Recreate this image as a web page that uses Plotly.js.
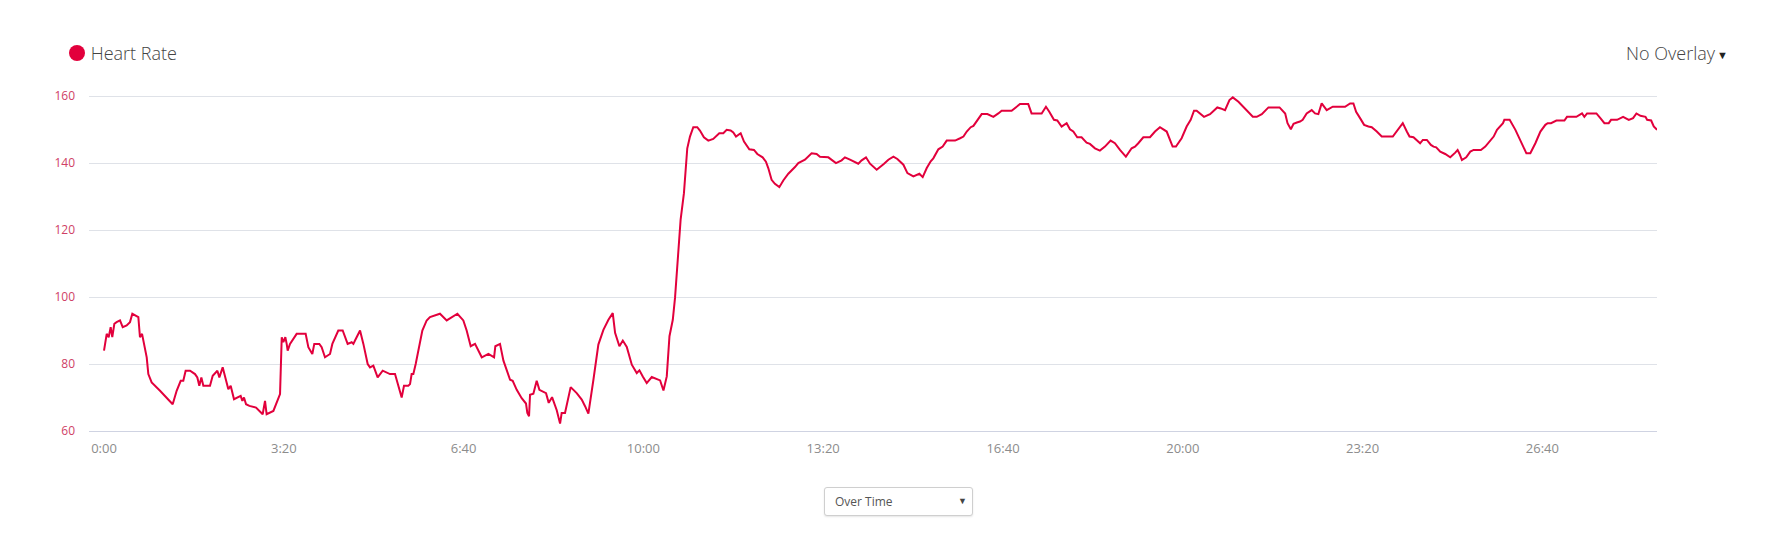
<!DOCTYPE html>
<html>
<head>
<meta charset="utf-8">
<script src="https://cdn.plot.ly/plotly-3.0.1.min.js"></script>
<style>
  html, body { margin: 0; padding: 0; background: #fff; }
  #wrap { position: relative; width: 1766px; height: 549px; overflow: hidden; font-family: "Open Sans", sans-serif; }
  #chart { position: absolute; left: 0; top: 0; width: 1766px; height: 549px; }
  .legend { position: absolute; left: 69px; top: 43.5px; height: 18px; line-height: 18px; font-size: 18px; font-weight: 300; color: #444; white-space: nowrap; }
  .legend .dot { position: absolute; left: 0; top: 1px; width: 16px; height: 16px; border-radius: 50%; background: #e2003c; }
  .legend .lbl { position: absolute; left: 21.7px; top: 0; }
  .overlay { position: absolute; left: 1626px; top: 43.5px; height: 18px; line-height: 18px; font-size: 18px; font-weight: 300; color: #444; white-space: nowrap; }
  .overlay .arr { font-size: 11px; color: #222; margin-left: 2px; vertical-align: 1px; }
  .select { position: absolute; left: 824px; top: 487px; width: 149px; height: 29px; box-sizing: border-box; border: 1px solid #cfcfcf; border-radius: 3px; box-shadow: 0 1px 2px rgba(0,0,0,0.10); background: #fff; }
  .select .txt { position: absolute; left: 10px; top: 0; line-height: 27px; font-size: 12px; color: #555; }
  .select .arr { position: absolute; right: 5px; top: 0; line-height: 25px; font-size: 9px; color: #444; }
</style>
</head>
<body>
<div id="wrap">
  <div id="chart"></div>
  <div class="legend"><span class="dot"></span><span class="lbl">Heart Rate</span></div>
  <div class="overlay">No Overlay<span class="arr">▼</span></div>
  <div class="select"><span class="txt">Over Time</span><span class="arr">▼</span></div>
</div>
<script>
// elapsed time in seconds
const elapsedSec = [
  0,3,5.2,7.4,9.2,11.5,14,17.8,20.8,25.2,
  28.9,31.5,38.2,40,42.3,44.9,47.5,49.3,53,62.3,
  76.4,80.8,85.3,88.2,90.8,95.7,101.2,103.8,106,108.3,
  110.5,117.9,120.9,126.1,128.3,132,135.7,138.3,140.9,144.6,
  152,153.9,155.7,158,161.7,169.1,176.5,179.1,180.9,188.4,
  195.8,197.7,199.5,201.7,203.2,204.3,206.9,214.3,224.3,227.3,
  231.7,233.9,239.5,242.1,245.8,251.4,254,260.6,265.5,271,
  275.5,277.4,279.2,284.8,288.5,293.3,295.9,299.6,304.4,310,
  318.1,323.7,331.1,333.7,338.5,340.4,342.2,344.1,346.7,354.1,
  358.9,362.6,
  373.7,381.2,393.1,399.7,403.4,407.9,412.7,420.2,427.6,433.9,
  435.3,440.5,444.3,448,451.7,454.6,459.1,464.6,469.4,470.9,
  472.8,473.9,477.6,481.3,484.3,491.7,494.7,498.4,503.6,507.3,
  509.1,512.8,519.1,525.8,531.4,535.1,538.8,544.4,549.9,555.5,
  561.1,565.9,568.5,573.3,577.1,581.5,587.1,592.6,595.6,599.3,
  603.7,609.3,618.6,622.3,626,629,632.7,
  635.2,637.7,641.4,645.1,647.3,648.8,651.8,655.5,659.9,662.9,
  667.3,672.2,677.7,684.4,688.9,692.6,697,700,703,705.6,
  708.2,711.9,717.8,723,726.7,732.6,736.3,738.9,742.6,746.3,
  751.2,755.6,761.2,768.6,772.3,779.7,787.1,792.7,796.4,805.7,
  809.4,814.2,820.5,824.2,829.8,839,842.8,847.6,852.1,859.5,
  867.7,872.5,878.1,882.5,889.2,893.7,900.3,907,910.7,915.2,
  919.6,
  922.5,928.1,932.9,937.4,946.7,952.3,956,959.7,964.1,967.1,
  971.5,976.3,982.6,989.3,994.8,998.5,1009.6,1018.9,1028.1,1031.8,
  1043,1047.8,1051.5,1056.7,1060.4,1065.2,1070.8,1074.5,1078.2,1082.6,
  1087.4,1093,1096.7,1102.3,1107.8,1113.4,1119.7,1124.5,1130.1,1136.7,
  1143.1,1146.8,1150.5,1156.1,1163.5,1169.1,1174.6,1182.1,1188.7,1192.4,
  1198.7,1204.3,1208.8,1212.5,1215.4,1223.6,1230.3,1238.4,1242.2,1247,
  1251.9,1255.6,1261.9,1269.3,1273,1277.9,1282.3,1287.9,1295.3,1307.6,
  1313.9,1316.5,1320.2,1323.2,1326.9,
  1330.4,1333.4,1337.8,1343.4,1347.1,1350.8,1354.5,1360.1,1366.8,1380.5,
  1386.1,1389.8,1392.8,1397.2,1401.7,1406.5,1410.2,1415.8,1421.3,1433.6,
  1438.1,1444.7,1449.2,1452.2,1456.6,1460.3,1464,1467,1471.5,1476,
  1478.9,1481.9,1486.4,1491.9,1497.5,1503.1,1505.7,1507.9,1510.5,1515.3,
  1519.8,1523.5,1531.6,1536.5,1542.1,1545.8,1549.5,1554,1556.2,1557.7,
  1563.6,1570,1575.5,1582.2,1586.6,1592.2,1597.8,1603.3,1605.9,1609.6,
  1615.6,1624.5,1627.4,1637.8,1644.1,1646.7,1649.7,1660.1,1664.5,1669,
  1673.8,1676.4,1683.1,1689.8,1696.1,1700.9,1704.6,1709.1,1714.7,1716.5,
  1721,1723.9,1727.6
];

// heart rate, bpm
const heartRate = [
  84,89,88,91,88,92,92.5,93,91,91.5,
  92.5,95,94,88,89,85,82,77,74.5,72,
  68,72,75,75,78,78,77,76,73.5,76,
  73.5,73.5,76.5,78,76,79,75.5,72.5,73.5,69.5,
  70.5,69,70,68,67.5,67,65,69,65,66,
  71,88,86.5,88,86,84,86,89,89,85,
  83,86,86,85,82,83,86,90,90,86,
  86.5,86,87,90,86,80,79,79.5,76,78,
  77,77,70,73.5,73.5,74,77,77,80,90,
  93,94,
  95,93,95,93,90,85.3,86,82,83,82,
  85.3,86,81,78.3,75.3,75,72.3,69.8,68.2,65.4,
  64.4,70.8,71.1,75,72.3,71.3,68.4,70.1,66.2,62.2,
  65.4,65.4,73.1,71.3,69.4,67.4,65.2,75.3,85.8,90.2,
  93.2,95.2,89.3,85.3,87,85.1,79.8,77.3,78.1,76.3,
  74.3,76.1,75.1,72.1,76.3,88.3,93.2,
  99.8,109.2,123.1,131,139,144.4,147.9,150.7,150.7,149.7,
  147.7,146.7,147.2,148.9,148.9,149.9,149.7,149.1,147.9,148.4,
  148.9,146.4,144.1,143.9,142.7,141.7,140.4,138.5,135,133.8,
  132.8,134.8,136.8,138.8,140,141,142.9,142.7,141.9,141.7,
  141,140,140.8,141.7,141,139.8,140.8,141.7,139.8,138,
  139.8,141,141.9,141.2,139.5,137,136,136.8,135.8,138.5,
  140.5,
  141.4,144.1,144.9,146.7,146.7,147.4,147.9,149.4,150.7,151.1,
  152.9,154.6,154.6,153.8,154.8,155.6,155.6,157.6,157.6,154.8,
  154.8,156.8,155.3,152.9,152.7,150.9,151.9,150.1,149.4,147.7,
  147.7,146.1,145.7,144.4,143.7,144.9,146.7,145.9,143.9,141.9,
  144.4,144.9,145.9,147.7,147.7,149.4,150.7,149.4,144.9,144.9,
  147.4,150.9,152.9,155.6,155.6,153.8,154.6,156.6,156.3,155.8,
  158.8,159.6,158.3,156.3,155.3,153.8,153.8,154.6,156.6,156.6,
  154.8,151.9,150.1,151.7,152.1,
  152.4,152.9,154.8,155.8,154.8,154.6,157.8,155.8,156.8,156.8,
  157.8,157.8,155.3,153.4,151.4,150.9,150.7,149.4,147.9,147.9,
  149.4,151.9,149.4,147.9,147.7,146.9,145.9,146.9,146.9,145.4,
  144.9,144.7,143.4,142.7,141.7,143.1,143.9,142.7,140.9,141.7,
  143.4,143.9,143.9,144.9,146.7,147.9,149.9,151.4,151.9,152.9,
  152.9,149.9,146.9,142.9,142.9,145.9,149.4,151.4,151.9,151.9,
  152.7,152.7,153.8,153.8,154.8,153.8,154.8,154.8,153.4,151.9,
  151.9,152.9,152.9,153.8,152.9,153.4,154.8,154.1,153.8,152.9,
  152.7,150.9,149.9
];

const xTickVals = [0, 200, 400, 600, 800, 1000, 1200, 1400, 1600];
const xTickText = ['0:00', '3:20', '6:40', '10:00', '13:20', '16:40', '20:00', '23:20', '26:40'];
const yTickVals = [60, 80, 100, 120, 140, 160];
const yTickText = ['60', '80', '100', '120', '140', '160'];

const trace = {
  type: 'scatter',
  mode: 'lines',
  x: elapsedSec,
  y: heartRate,
  name: 'Heart Rate',
  line: { color: '#e2003c', width: 2 },
  hoverinfo: 'skip'
};

const layout = {
  width: 1766,
  height: 549,
  margin: { l: 89, r: 109, t: 89, b: 118, pad: 0 },
  paper_bgcolor: '#ffffff',
  plot_bgcolor: '#ffffff',
  showlegend: false,
  font: { family: 'Open Sans, sans-serif' },
  xaxis: {
    range: [-16.7, 1727.5],
    tickvals: xTickVals,
    ticktext: xTickText,
    showgrid: false,
    zeroline: false,
    showline: true,
    linecolor: '#cfd3e2',
    linewidth: 1,
    ticks: '',
    ticklabelstandoff: 5,
    tickfont: { family: 'Open Sans, sans-serif', size: 13, color: '#8c8c8c' },
    fixedrange: true
  },
  yaxis: {
    range: [60, 162.1],
    tickvals: yTickVals,
    ticktext: yTickText,
    showgrid: true,
    gridcolor: '#dfe2e8',
    gridwidth: 1,
    zeroline: false,
    showline: false,
    ticks: '',
    ticklabelstandoff: 13,
    tickfont: { family: 'Open Sans, sans-serif', size: 12, color: '#cf3f66' },
    fixedrange: true
  }
};

Plotly.newPlot('chart', [trace], layout, { staticPlot: true, displayModeBar: false });
</script>
</body>
</html>
